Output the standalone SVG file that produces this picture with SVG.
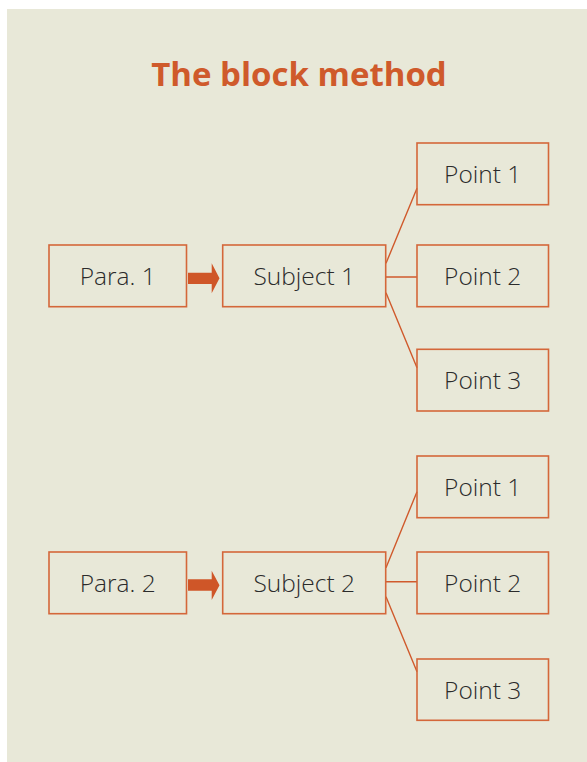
<svg xmlns="http://www.w3.org/2000/svg" width="587" height="762" viewBox="0 0 587 762">
  <defs>
    <style>
      .bg { fill: #E8E8D8; }
      .title { font-family: "Open Sans", "Noto Sans", sans-serif; font-weight: bold; font-size: 33px; fill: #CF5A2B; text-anchor: middle; }
      .box { fill: none; stroke: #D4673A; stroke-width: 1.6; }
      .label { font-family: "Open Sans", "Noto Sans", sans-serif; font-weight: 350; font-size: 24.5px; fill: #2B2B2B; text-anchor: middle; }
      .link { fill: none; stroke: #D05A2C; stroke-width: 1.4; }
      .arrow { fill: #CF5628; }
    </style>
  </defs>

  <rect class="bg" x="7" y="9" width="580" height="753"/>

  <text class="title" x="299" y="86">The block method</text>

  <!-- connectors -->
  <g id="connectors">
    <path class="arrow" d="M188,272.7 H211.7 V263.3 L219.5,278.3 L211.7,293.3 V284 H188 Z"/>
    <path class="link" d="M386,263.3 L417,188.3 M386,277 H417 M386,292.7 L417,367.7"/>
    <path class="arrow" d="M188,579.3 H211.7 V570.7 L219.5,585.3 L211.7,600 V590.7 H188 Z"/>
    <path class="link" d="M386,567.7 L417,491.7 M386,581.7 H417 M386,596.7 L417,671.7"/>
  </g>

  <!-- first block -->
  <g id="para1">
    <rect class="box" x="49" y="245" width="137.5" height="61.7"/>
    <text class="label" x="117.7" y="285">Para. 1</text>
  </g>
  <g id="subject1">
    <rect class="box" x="222.7" y="245" width="163" height="61.7"/>
    <text class="label" x="304.2" y="285">Subject 1</text>
  </g>
  <g id="point1a">
    <rect class="box" x="417" y="143" width="131.5" height="61.7"/>
    <text class="label" x="482.7" y="183">Point 1</text>
  </g>
  <g id="point2a">
    <rect class="box" x="417" y="245" width="131.5" height="61.7"/>
    <text class="label" x="482.7" y="285">Point 2</text>
  </g>
  <g id="point3a">
    <rect class="box" x="417" y="349.3" width="131.5" height="61.7"/>
    <text class="label" x="482.7" y="389.3">Point 3</text>
  </g>

  <!-- second block -->
  <g id="para2">
    <rect class="box" x="49" y="552" width="137.5" height="61.7"/>
    <text class="label" x="117.7" y="592">Para. 2</text>
  </g>
  <g id="subject2">
    <rect class="box" x="222.7" y="552" width="163" height="61.7"/>
    <text class="label" x="304.2" y="592">Subject 2</text>
  </g>
  <g id="point1b">
    <rect class="box" x="417" y="456" width="131.5" height="61.7"/>
    <text class="label" x="482.7" y="496">Point 1</text>
  </g>
  <g id="point2b">
    <rect class="box" x="417" y="552" width="131.5" height="61.7"/>
    <text class="label" x="482.7" y="592">Point 2</text>
  </g>
  <g id="point3b">
    <rect class="box" x="417" y="659" width="131.5" height="61.3"/>
    <text class="label" x="482.7" y="698.8">Point 3</text>
  </g>
</svg>
